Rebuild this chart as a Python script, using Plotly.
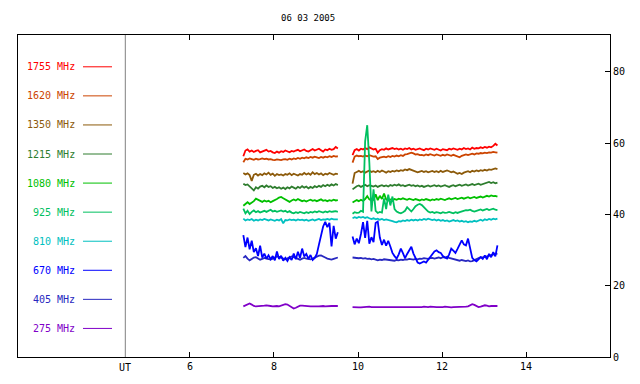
import plotly.graph_objects as go

# ---------------- data ----------------
TITLE = "06 03 2005"
FREQ_LABELS = ["1755 MHz", "1620 MHz", "1350 MHz", "1215 MHz", "1080 MHz",
               "925 MHz", "810 MHz", "670 MHz", "405 MHz", "275 MHz"]
X_TICKS = [6, 8, 10, 12, 14]
Y_TICKS = [0, 20, 40, 60, 80]

T1 = [7.27, 7.32, 7.37, 7.42, 7.47, 7.52, 7.57, 7.62, 7.67, 7.72,
      7.77, 7.82, 7.87, 7.92, 7.97, 8.02, 8.07, 8.12, 8.17, 8.22,
      8.27, 8.32, 8.37, 8.42, 8.47, 8.52, 8.57, 8.62, 8.67, 8.72,
      8.77, 8.82, 8.87, 8.92, 8.97, 9.02, 9.07, 9.12, 9.17, 9.22,
      9.27, 9.32, 9.37, 9.42, 9.47, 9.52]
T2 = [9.87, 9.92, 9.97, 10.02, 10.07, 10.12, 10.17, 10.22, 10.27, 10.32,
      10.37, 10.42, 10.47, 10.52, 10.57, 10.62, 10.67, 10.72, 10.77, 10.82,
      10.87, 10.92, 10.97, 11.02, 11.07, 11.12, 11.17, 11.22, 11.27, 11.32,
      11.37, 11.42, 11.47, 11.52, 11.57, 11.62, 11.67, 11.72, 11.77, 11.82,
      11.87, 11.92, 11.97, 12.02, 12.07, 12.12, 12.17, 12.22, 12.27, 12.32,
      12.37, 12.42, 12.47, 12.52, 12.57, 12.62, 12.67, 12.72, 12.77, 12.82,
      12.87, 12.92, 12.97, 13.02, 13.07, 13.12, 13.17, 13.22, 13.27, 13.32]

S1755_A = [56.3, 57.9, 58.2, 57.6, 57.9, 57.5, 57.8, 58.0, 57.4, 57.7,
           57.9, 58.1, 57.6, 57.8, 57.4, 57.2, 57.6, 57.3, 57.7, 57.5,
           57.9, 57.6, 57.4, 57.8, 57.6, 57.9, 58.1, 57.7, 57.9, 58.2,
           57.8, 57.6, 58.0, 58.3, 57.9, 58.1, 58.4, 58.0, 57.6, 58.2,
           58.0, 58.4, 58.1, 58.3, 58.9, 58.5]
S1755_B = [56.6, 58.0, 58.3, 57.9, 58.4, 58.2, 58.6, 58.3, 58.8, 58.5,
           58.2, 58.4, 57.3, 58.0, 58.3, 58.1, 58.5, 58.2, 58.4, 58.6,
           58.3, 58.5, 58.2, 58.4, 58.1, 58.5, 58.3, 58.6, 58.2, 58.4,
           58.1, 58.3, 58.5, 58.2, 58.0, 58.4, 58.2, 58.5, 58.3, 58.1,
           58.4, 58.2, 57.9, 58.3, 58.1, 58.0, 58.4, 58.2, 58.5, 58.3,
           58.1, 58.4, 58.2, 58.6, 58.3, 58.5, 58.2, 58.7, 58.4, 58.6,
           58.5, 58.8, 58.6, 58.9, 58.7, 59.0, 58.8, 59.2, 59.8, 59.3]

S1620_A = [54.6, 55.6, 55.4, 55.7, 55.5, 55.3, 55.6, 55.4, 55.5, 55.7,
           55.5, 55.6, 55.4, 55.5, 55.3, 55.2, 55.4, 55.3, 55.2, 55.4,
           55.5, 55.3, 55.6, 55.4, 55.7, 55.5, 55.8, 55.6, 55.9, 55.7,
           56.0, 55.8, 56.1, 55.9, 56.2, 56.0, 55.8, 56.1, 55.9, 56.2,
           56.0, 56.3, 56.1, 56.4, 56.2, 56.3]
S1620_B = [54.5, 56.2, 56.5, 56.3, 56.4, 56.2, 56.5, 56.3, 56.6, 56.4,
           56.2, 56.3, 55.5, 55.9, 56.1, 56.2, 56.0, 56.3, 56.1, 56.4,
           56.2, 56.5, 56.3, 56.6, 56.4, 56.8, 56.9, 57.2, 57.3, 57.1,
           56.8, 56.9, 56.6, 56.7, 56.5, 56.8, 56.6, 56.9, 56.7, 56.5,
           56.8, 56.6, 56.4, 56.7, 56.5, 56.8, 56.6, 56.4, 56.7, 56.5,
           56.3, 56.0, 56.4, 56.6, 56.8, 56.6, 56.9, 57.0, 56.8, 57.1,
           57.0, 57.2, 57.1, 57.3, 57.2, 57.4, 57.3, 57.5, 57.4, 57.3]

S1350_A = [51.6, 51.2, 51.5, 51.0, 49.4, 51.1, 51.4, 50.9, 51.3, 51.0,
           51.5, 51.2, 51.7, 51.1, 51.4, 50.8, 51.3, 51.0, 51.2, 50.9,
           51.3, 51.1, 51.5, 51.0, 51.4, 51.2, 50.9, 51.3, 51.1, 51.6,
           51.2, 51.5, 51.1, 51.8, 51.3, 51.6, 51.2, 51.5, 51.0, 51.4,
           51.2, 51.6, 51.3, 51.1, 51.4, 51.3]
S1350_B = [48.6, 51.6, 51.9, 52.2, 51.8, 52.1, 51.7, 52.0, 52.3, 51.9,
           52.1, 51.8, 52.2, 51.9, 52.3, 52.0, 51.7, 52.1, 51.9, 52.2,
           52.0, 52.3, 52.1, 52.4, 52.2, 52.6, 52.4, 52.7, 52.5, 52.3,
           52.1, 51.8, 52.0, 52.2, 51.9, 52.1, 51.8, 52.0, 52.2, 51.9,
           52.1, 51.8, 52.2, 51.9, 52.0, 52.3, 52.1, 51.8, 52.0, 51.7,
           51.4, 51.6, 51.3, 51.7, 51.9, 52.1, 51.8, 52.2, 52.0, 52.3,
           52.1, 52.4, 52.2, 52.5, 52.3, 52.6, 52.5, 52.8, 52.9, 52.7]

S1215_A = [48.6, 48.2, 48.4, 47.8, 47.5, 46.7, 47.6, 47.2, 47.8, 48.0,
           47.6, 48.1, 47.7, 47.9, 47.4, 47.7, 47.3, 47.6, 47.2, 47.5,
           47.1, 47.6, 47.3, 47.8, 47.5, 47.2, 47.7, 47.4, 47.9, 47.5,
           47.8, 47.3, 47.7, 47.4, 47.9, 47.6, 48.0, 47.7, 48.2, 47.9,
           48.3, 48.0, 48.4, 48.1, 48.5, 48.2]
S1215_B = [47.0, 47.6, 47.9, 48.1, 47.7, 48.0, 48.3, 47.9, 48.2, 48.0,
           47.8, 48.1, 47.7, 48.0, 48.2, 47.9, 48.1, 47.8, 48.2, 48.0,
           48.3, 48.1, 48.4, 48.0, 48.2, 47.9, 48.1, 48.3, 48.0, 48.2,
           47.9, 48.1, 47.8, 48.0, 47.7, 47.9, 48.1, 47.8, 48.0, 48.2,
           47.9, 48.1, 47.8, 48.0, 48.2, 47.9, 47.7, 48.0, 48.2, 47.9,
           48.1, 48.3, 48.0, 48.2, 48.4, 48.1, 48.3, 48.5, 48.2, 48.4,
           48.6, 48.3, 48.5, 48.7, 48.9, 49.1, 48.8, 49.0, 48.7, 48.9]

S1080_A = [42.4, 43.0, 43.4, 42.9, 43.3, 43.7, 44.4, 44.1, 43.8, 43.5,
           43.9, 43.6, 43.8, 43.4, 43.7, 43.9, 44.3, 44.7, 44.9, 44.5,
           44.2, 43.8, 43.5, 43.9, 44.2, 43.9, 44.3, 44.0, 43.7, 43.9,
           43.6, 43.9, 44.1, 43.8, 44.0, 43.7, 43.9, 44.2, 43.8, 44.0,
           43.7, 44.0, 43.8, 44.1, 43.9, 44.0]
S1080_B = [43.3, 43.6, 44.0, 43.7, 44.1, 43.8, 44.3, 45.1, 44.2, 43.9,
           44.1, 45.6, 44.0, 45.2, 44.3, 45.8, 44.2, 43.9, 44.2, 44.0,
           44.3, 44.1, 44.4, 44.2, 44.5, 44.3, 44.1, 44.4, 44.2, 44.0,
           44.3, 44.1, 43.9, 44.2, 44.0, 44.3, 44.1, 43.9, 44.2, 44.0,
           44.3, 44.1, 44.4, 44.2, 44.0, 44.3, 44.5, 44.2, 44.4, 44.6,
           44.3, 44.5, 44.7, 44.4, 44.6, 44.8, 44.5, 44.7, 44.9, 44.6,
           44.8, 45.0, 44.7, 44.9, 45.2, 45.0, 45.3, 45.1, 45.2, 45.0]

S925_A = [41.6, 40.3, 41.0, 40.1, 40.7, 41.1, 40.6, 40.9, 40.5, 40.8,
          41.0, 40.7, 40.9, 41.3, 40.8, 41.0, 40.7, 40.9, 41.1, 40.8,
          41.0, 40.6, 40.9, 40.5, 40.3, 40.6, 40.4, 40.7, 40.5, 40.3,
          40.6, 40.4, 40.7, 40.5, 40.8, 40.6, 40.9, 40.7, 40.5, 40.8,
          40.6, 40.9, 40.7, 40.8, 40.9, 40.7]
S925_B = [40.2, 40.6, 40.4, 40.5, 41.0, 40.7, 60.5, 65.0, 54.5, 40.8,
          47.0, 41.0, 40.4, 40.7, 40.5, 44.5, 41.5, 45.5, 42.5, 45.0,
          41.5, 40.8, 40.5, 40.3, 40.6, 41.0, 42.0, 41.5, 40.8, 41.5,
          42.3, 42.7, 42.9, 42.6, 41.9, 41.2, 40.8, 40.5, 40.7, 40.4,
          40.6, 40.5, 40.3, 40.6, 40.4, 40.5, 40.7, 40.5, 40.3, 40.6,
          40.4, 40.6, 40.8, 41.0, 41.2, 41.1, 41.3, 41.0, 40.8, 41.0,
          41.2, 41.4, 41.1, 41.3, 41.5, 41.2, 41.4, 41.6, 41.3, 41.2]

S810_A = [38.8, 38.3, 38.6, 38.4, 38.7, 38.2, 38.5, 38.3, 38.6, 38.4,
          38.7, 38.5, 38.3, 38.6, 38.4, 38.2, 38.5, 38.3, 38.7, 37.5,
          38.4, 38.3, 38.6, 38.4, 38.5, 38.3, 38.6, 38.4, 38.5, 38.3,
          38.5, 38.2, 38.4, 38.6, 38.3, 38.5, 38.7, 38.4, 38.6, 38.5,
          38.7, 38.5, 38.8, 38.6, 38.7, 38.6]
S810_B = [38.9, 39.2, 39.0, 39.3, 39.1, 39.3, 39.0, 39.2, 38.9, 38.7,
          38.9, 38.6, 38.8, 38.5, 38.7, 38.4, 38.6, 38.5, 38.3, 38.1,
          37.9, 37.8, 38.1, 38.0, 38.3, 38.1, 38.4, 38.2, 38.5, 38.3,
          38.5, 38.3, 38.6, 38.4, 38.7, 38.5, 38.8, 38.6, 38.4, 38.6,
          38.3, 38.5, 38.2, 38.4, 38.1, 38.3, 38.0, 38.2, 38.4, 38.1,
          38.3, 38.0, 38.2, 37.9, 38.1, 37.8, 38.0, 37.9, 38.2, 38.0,
          38.3, 38.5, 38.2, 38.6, 38.4, 38.7, 38.5, 38.8, 38.6, 38.8]

S670_A = [34.2, 30.8, 33.5, 30.2, 32.6, 29.4, 30.5, 28.3, 31.2, 27.9,
          29.0, 27.6, 28.5, 27.4, 28.3, 27.1, 29.6, 27.5, 28.4, 27.0,
          27.8, 26.9, 28.0, 27.2, 29.0, 27.4, 29.5, 27.8, 30.4, 28.2,
          28.9, 27.5, 28.6, 27.2, 27.8, 28.9, 31.5, 34.0, 36.6, 37.9,
          36.4, 37.6, 31.0, 36.8, 33.2, 35.0]
S670_B = [33.8, 31.6, 33.2, 31.9, 34.5, 37.8, 33.4, 38.2, 31.8, 33.6,
          32.2, 37.6, 38.0, 33.5, 31.4, 32.9, 31.2, 32.6, 31.0, 29.2,
          28.3, 27.6, 28.8, 30.4, 29.1, 27.7, 28.9, 30.1, 30.9, 29.0,
          27.5, 26.5, 26.2, 26.6, 26.8, 26.5, 27.3, 28.2, 29.0, 29.6,
          29.9, 29.4, 29.2, 28.3, 27.9, 27.6, 28.8, 30.4, 29.8, 29.2,
          30.3, 31.5, 32.7, 31.6, 31.3, 33.2, 30.5, 27.8, 27.2, 26.8,
          27.4, 28.0, 27.5, 28.5, 27.4, 28.9, 28.0, 29.4, 28.2, 31.3]

S405_A = [27.8, 28.3, 27.6, 27.1, 27.5, 27.9, 28.0, 27.6, 27.3, 27.5,
          27.8, 27.6, 27.4, 27.3, 27.6, 27.9, 28.2, 28.1, 27.8, 27.5,
          27.4, 27.7, 27.9, 28.2, 28.0, 27.7, 27.5, 27.3, 27.6, 27.8,
          27.6, 27.5, 27.4, 27.6, 27.9, 28.2, 28.4, 28.5, 28.3, 27.9,
          27.6, 27.4, 27.3, 27.5, 27.7, 27.9]
S405_B = [27.9, 27.8, 27.9, 27.7, 27.8, 27.6, 27.7, 27.5, 27.6, 27.4,
          27.5, 27.3, 27.1, 27.3, 27.2, 27.4, 27.3, 27.1, 27.2, 27.0,
          27.0, 27.2, 27.1, 27.3, 27.2, 27.4, 27.3, 27.5, 27.4, 27.3,
          27.5, 27.4, 27.6, 27.5, 27.7, 27.6, 27.5, 27.7, 27.8, 27.6,
          27.8, 27.9, 27.7, 28.0, 27.9, 28.1, 27.8, 27.6, 27.4, 27.2,
          27.1, 27.0, 27.2, 27.0, 26.9, 27.1, 26.8, 26.9, 27.2, 27.5,
          27.8, 28.0, 27.9, 28.1, 28.2, 28.4, 28.5, 28.7, 28.9, 29.0]

S275_A = [14.2, 14.5, 14.9, 15.0, 14.7, 14.3, 14.2, 14.2, 14.3, 14.4,
          14.4, 14.5, 14.3, 14.3, 14.2, 14.3, 14.3, 14.2, 14.4, 14.6,
          14.8, 14.7, 14.3, 13.9, 13.6, 13.8, 14.2, 14.4, 14.4, 14.3,
          14.2, 14.1, 14.2, 14.2, 14.3, 14.2, 14.2, 14.3, 14.3, 14.2,
          14.3, 14.2, 14.3, 14.3, 14.2, 14.3]
S275_B = [14.0, 13.9, 14.0, 13.9, 13.9, 14.0, 14.1, 14.2, 14.1, 14.0,
          14.0, 13.9, 13.9, 14.0, 13.9, 14.0, 14.0, 13.9, 13.9, 14.0,
          13.9, 14.0, 13.9, 13.9, 14.0, 14.0, 13.9, 13.9, 14.0, 13.9,
          13.8, 13.9, 13.9, 14.0, 14.1, 14.0, 14.0, 14.1, 14.0, 13.9,
          14.0, 14.0, 13.9, 14.0, 14.1, 14.0, 14.0, 13.9, 14.0, 14.0,
          14.1, 14.0, 13.9, 14.0, 14.1, 14.2, 14.5, 14.8, 14.6, 14.2,
          14.0, 14.1, 14.3, 14.5, 14.4, 14.2, 14.3, 14.2, 14.3, 14.3]

SERIES = {
    "1755 MHz": (S1755_A, S1755_B),
    "1620 MHz": (S1620_A, S1620_B),
    "1350 MHz": (S1350_A, S1350_B),
    "1215 MHz": (S1215_A, S1215_B),
    "1080 MHz": (S1080_A, S1080_B),
    "925 MHz": (S925_A, S925_B),
    "810 MHz": (S810_A, S810_B),
    "670 MHz": (S670_A, S670_B),
    "405 MHz": (S405_A, S405_B),
    "275 MHz": (S275_A, S275_B),
}

# ---------------- style ----------------
COLORS = {
    "1755 MHz": "#ff0000",
    "1620 MHz": "#cc4400",
    "1350 MHz": "#8c5a0a",
    "1215 MHz": "#2e7d2e",
    "1080 MHz": "#00c000",
    "925 MHz": "#00c060",
    "810 MHz": "#00c0c0",
    "670 MHz": "#0000ff",
    "405 MHz": "#2828c0",
    "275 MHz": "#8000c8",
}
FONT = "DejaVu Sans Mono"
W, H = 640, 384
L, R, T, B = 18, 30, 35, 25
PW, PH = W - L - R, H - T - B

fig = go.Figure()
draw_order = ["1755 MHz", "1620 MHz", "1350 MHz", "1215 MHz", "1080 MHz",
              "925 MHz", "810 MHz", "405 MHz", "670 MHz", "275 MHz"]
for name in draw_order:
    a, b = SERIES[name]
    fig.add_trace(go.Scatter(
        x=T1 + [None] + T2, y=a + [None] + b, mode="lines", name=name,
        line=dict(color=COLORS[name], width=1.8), connectgaps=False,
        hoverinfo="skip"))

def px_to_paper_x(px):
    return (px - L) / PW

def px_to_paper_y(py):
    return (H - B - py) / PH

annotations = []
shapes = []
for k, name in enumerate(FREQ_LABELS):
    ypix = 67 + 29.25 * k
    yp = px_to_paper_y(ypix)
    annotations.append(dict(
        text=name, x=px_to_paper_x(77), y=yp, xref="paper", yref="paper",
        xanchor="right", yanchor="middle", showarrow=False,
        font=dict(family=FONT, size=10, color=COLORS[name])))
    shapes.append(dict(
        type="line", xref="paper", yref="paper",
        x0=px_to_paper_x(83), x1=px_to_paper_x(112), y0=yp, y1=yp,
        line=dict(color=COLORS[name], width=1)))

# UT marker line and label
UT_POS = 4.46
shapes.append(dict(type="line", xref="x", yref="paper", x0=UT_POS, x1=UT_POS,
                   y0=0, y1=1, line=dict(color="#808080", width=1)))
annotations.append(dict(text="UT", x=UT_POS, y=px_to_paper_y(370),
                        xref="x", yref="paper", xanchor="center",
                        yanchor="middle", showarrow=False,
                        font=dict(family=FONT, size=10, color="black")))
annotations.append(dict(text=TITLE, x=px_to_paper_x(308), y=px_to_paper_y(18),
                        xref="paper", yref="paper", xanchor="center",
                        yanchor="middle", showarrow=False,
                        font=dict(family=FONT, size=9, color="black")))

fig.update_layout(
    width=W, height=H, margin=dict(l=L, r=R, t=T, b=B),
    paper_bgcolor="white", plot_bgcolor="white", showlegend=False,
    font=dict(family=FONT, size=10, color="black"),
    annotations=annotations, shapes=shapes,
    xaxis=dict(range=[1.905, 16.0], tickvals=X_TICKS,
               ticktext=[str(v) for v in X_TICKS],
               ticks="inside", ticklen=5, tickwidth=1, tickcolor="black",
               showline=True, linecolor="black", linewidth=1.2,
               mirror="allticks", showgrid=False, zeroline=False,
               tickfont=dict(family=FONT, size=10, color="black")),
    yaxis=dict(range=[0, 90.3], tickvals=Y_TICKS, side="right",
               ticks="inside", ticklen=5, tickwidth=1, tickcolor="black",
               showline=True, linecolor="black", linewidth=1.2,
               mirror=True, showgrid=False, zeroline=False,
               tickfont=dict(family=FONT, size=10, color="black")),
)

fig.write_html(
    "out.html",
    config={"displayModeBar": False},
    post_script="document.body.style.margin='0';document.body.style.overflow='hidden';",
)
